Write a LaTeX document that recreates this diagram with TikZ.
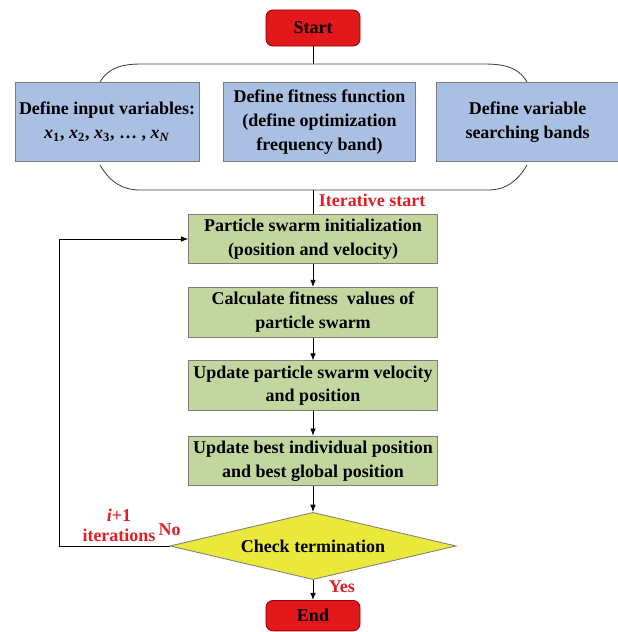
\documentclass[tikz,border=0pt]{standalone}
\usepackage{fontspec}
\setmainfont{Liberation Serif}
\usetikzlibrary{shapes.geometric, arrows.meta, positioning}
\definecolor{termred}{RGB}{227,24,27}
\definecolor{defblue}{RGB}{170,192,227}
\definecolor{psogreen}{RGB}{196,214,160}
\definecolor{checkyellow}{RGB}{235,232,60}
\definecolor{lblred}{RGB}{225,30,36}
\definecolor{edgegray}{RGB}{125,125,125}
\newcommand{\flowfont}{\fontsize{12.8}{17}\selectfont\bfseries}
\newcommand{\xvar}[1]{\textit{x}\textsubscript{#1}}
\tikzset{
	termbox/.style={
		draw=red!60!black,
		fill=termred,
		rounded corners=5pt,
		minimum width=2.35cm,
		minimum height=0.9cm,
		font=\flowfont
	},
	defbox/.style={
		draw=edgegray,
		fill=defblue,
		minimum height=1.97cm,
		inner xsep=2pt,
		align=center,
		font=\flowfont
	},
	psobox/.style={
		draw=edgegray,
		fill=psogreen,
		minimum width=6.22cm,
		minimum height=1.2cm,
		inner xsep=2pt,
		align=center,
		font=\flowfont
	},
	checkbox/.style={
		diamond,
		aspect=4.26,
		draw=edgegray,
		fill=checkyellow,
		minimum width=7.15cm,
		minimum height=1.68cm,
		inner sep=0pt,
		font=\flowfont
	},
	lbl/.style={
		text=lblred,
		inner sep=1pt,
		font=\flowfont
	},
	arrow/.style={
		-{Latex[length=1.8mm, width=1.4mm]},
		line width=0.6pt
	}
}

\begin{document}
\begin{tikzpicture}[x=0.025cm, y=-0.025cm, line width=0.6pt]
	\useasboundingbox (0,0) rectangle (618,632);
	
	% Start
	\node[termbox] (start) at (313,28) {Start};
	
	% Definitions
	\node[defbox, minimum width=4.78cm] (fitness) at (319.5,122) {Define fitness function\\(define optimization\\frequency band)};
	\node[defbox, minimum width=4.6cm, left=0.6cm of fitness] (inputs) {Define input variables:\\\xvar{1}, \xvar{2}, \xvar{3}, \dots\ , \xvar{\textit{N}}};
	\node[defbox, minimum width=4.58cm, right=0.5cm of fitness] (bands) {Define variable\\searching bands};
	
	% Bracket round the definitions
	\draw[black!75] (100,82) to[out=60, in=180] (142,64) -- (483,64) to[out=0, in=120] (527,82);
	\draw[black!75] (100,165) to[out=-60, in=180] (140,190) -- (488,190) to[out=0, in=-120] (527,165);
	\coordinate (brtop) at (313,64);
	\coordinate (brbot) at (313,190);
	
	% PSO loop
	\node[psobox] (init) at (313,239) {Particle swarm initialization\\(position and velocity)};
	\node[psobox, below=0.57cm of init] (fitval) {Calculate fitness\ \ values of\\particle swarm};
	\node[psobox, below=0.57cm of fitval] (velocity) {Update particle swarm velocity\\and position};
	\node[psobox, below=0.62cm of velocity] (best) {Update best individual position\\and best global position};
	\node[checkbox, below=0.64cm of best] (check) {Check termination};
	\node[termbox, minimum height=0.76cm, below=0.5cm of check] (end) {End};
	
	% Links
	\draw (start) -- (brtop);
	\draw (brbot) -- node[lbl, right, pos=0.45, xshift=0.1cm] {Iterative start} (init);
	\draw[arrow] (init) -- (fitval);
	\draw[arrow] (fitval) -- (velocity);
	\draw[arrow] (velocity) -- (best);
	\draw[arrow] (best) -- (check);
	\draw[arrow] (check) -- node[lbl, right, pos=0.35, xshift=0.35cm] {Yes} (end);
	\draw[arrow] (check.west) -- ++(-2.75cm,0) |- (init.west);
	
	% Loop labels
	\node[lbl, above=0.2cm of check.west] (no) {No};
	\node[lbl, align=center] (iters) at (119,525) {\textit{i}+1\\[-3pt]iterations};
	
\end{tikzpicture}
\end{document}
